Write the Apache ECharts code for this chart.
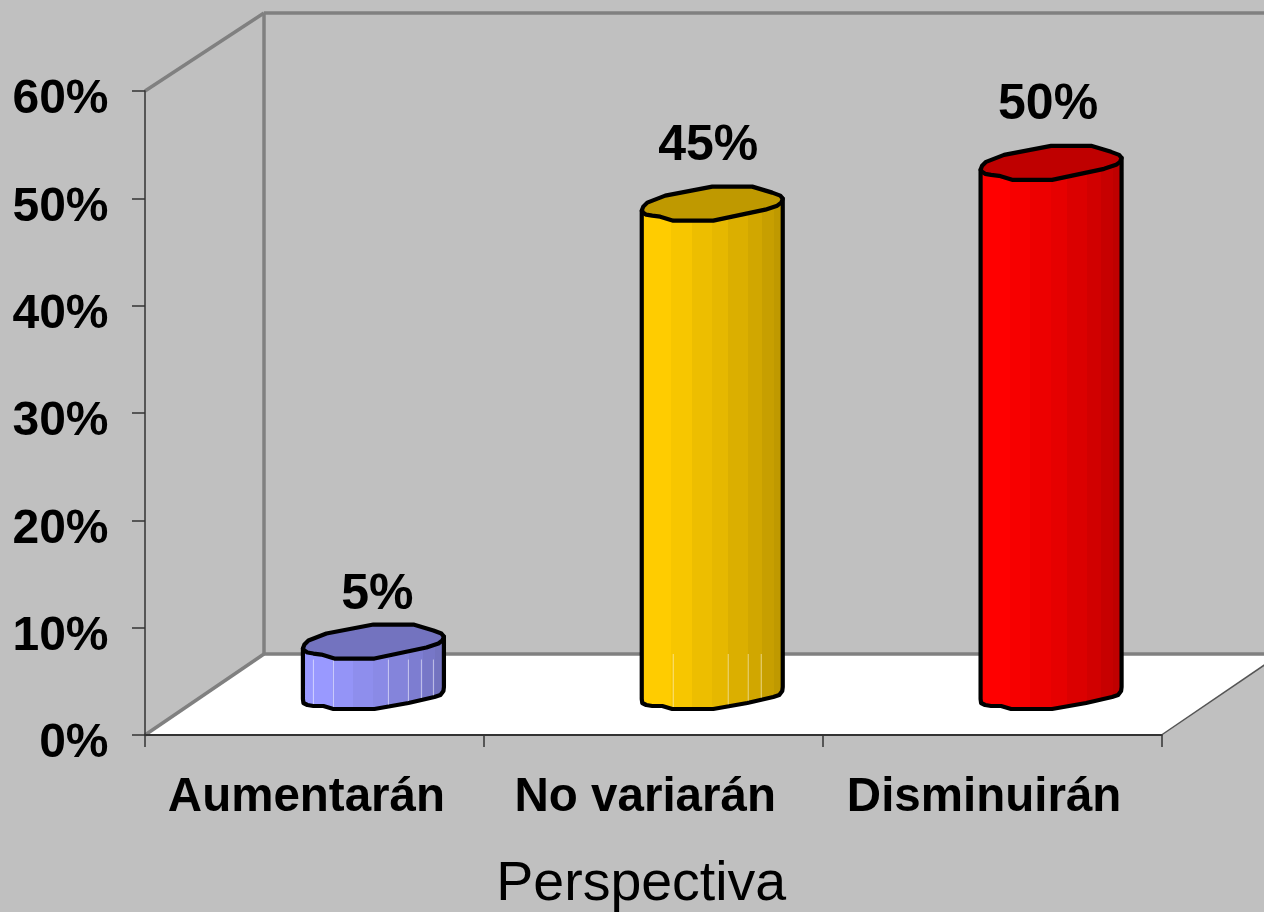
<!DOCTYPE html>
<html>
<head>
<meta charset="utf-8">
<style>html,body{margin:0;padding:0;background:#c0c0c0;overflow:hidden}#chart{width:1264px;height:912px}</style>
<script src="https://cdn.jsdelivr.net/npm/echarts@6/dist/echarts.min.js"></script>
</head>
<body>
<div id="chart"></div>
<script>
const categories = ['Aumentarán', 'No variarán', 'Disminuirán'];
const barValues = [4.7, 45.5, 49.3];
const barLabels = ['5%', '45%', '50%'];
const axisTitle = 'Perspectiva';
const yTicks = [0, 10, 20, 30, 40, 50, 60];

// Drawing style
const FONT = '"Liberation Sans", Arial, sans-serif';
const DEPTH_X = 119, DEPTH_Y = 81, WALL_TOP = 78;
const OFFSET_X = 59, OFFSET_Y = 26;
const faceColors = [[153,153,255],[255,204,0],[255,0,0]];
const seamAlpha = [0.55, 0.5, 0];
const seamSets = [[-60,-40,15,35,48,60],[-39,16,36,49],[]];
const labelLift = [[4,63],[-4,74],[-3,75]];
const topOutline = [[-70.5,-10],[-69,-14],[-65,-18],[-47,-25],[0,-34],[40,-34],[60,-28],[68,-25],[70.5,-22],[69,-18],[65,-15],[53,-11],[1,0],[-39,0],[-52,-4],[-60,-5],[-66,-6],[-69,-8]];
const bottomOutline = [[-70.5,-10],[-70,-6],[-66,-4],[-60,-3],[-50,-3],[-40,0],[1,0],[35,-6],[61,-12],[67,-14],[70,-18],[70.5,-22]];
const stripEdges = [-70.5,-40,-20,0,15,35,48,60,70.5];
const stripShade = [1,0.97,0.93,0.90,0.86,0.82,0.78,0.75];

function shade(c, k){ return 'rgb(' + c.map(v => Math.round(v*k)).join(',') + ')'; }

function outlineYAt(dx){
  for (let n = 0; n < bottomOutline.length-1; n++){
    const a = bottomOutline[n], b = bottomOutline[n+1];
    if (dx >= a[0] && dx <= b[0]) return a[1] + (b[1]-a[1])*(dx-a[0])/(b[0]-a[0]);
  }
  return 0;
}

function renderWalls(params){
  const s = params.coordSys;
  const x0 = s.x, x1 = s.x + s.width, yT = s.y, yB = s.y + s.height;
  const bx = x0 + DEPTH_X, by = yB - DEPTH_Y, tw = yT - WALL_TOP;
  const line = {stroke:'#808080', lineWidth:3.5, fill:null};
  return {type:'group', children:[
    {type:'polygon', shape:{points:[[x0,yB],[bx,by],[x1+DEPTH_X,by],[x1,yB]]}, style:{fill:'#ffffff'}},
    {type:'polyline', shape:{points:[[bx,tw],[x1+DEPTH_X,tw]]}, style:line},
    {type:'polyline', shape:{points:[[bx,tw],[bx,by],[x1+DEPTH_X,by]]}, style:line},
    {type:'polyline', shape:{points:[[x0,yT],[bx,tw]]}, style:line},
    {type:'polyline', shape:{points:[[x0,yB],[bx,by]]}, style:line},
    {type:'polyline', shape:{points:[[x1,yB],[x1+DEPTH_X,by]]}, style:{stroke:'#555555', lineWidth:1.5, fill:null}}
  ]};
}

function renderBar(params, api){
  const i = params.dataIndex;
  const base = api.coord([i, 0]);
  const top = api.coord([i, api.value(1)]);
  const cx = base[0] + OFFSET_X;
  const yBot = base[1] - OFFSET_Y;
  const yTop = top[1] - OFFSET_Y;
  const c = faceColors[i];
  const span = stripEdges[stripEdges.length-1] - stripEdges[0];
  const stops = [];
  stripShade.forEach((k, n) => {
    stops.push({offset:(stripEdges[n]-stripEdges[0])/span, color:shade(c,k)});
    stops.push({offset:(stripEdges[n+1]-stripEdges[0])/span, color:shade(c,k)});
  });
  const body = [[cx+topOutline[0][0], yTop+topOutline[0][1]]]
    .concat(bottomOutline.map(p => [cx+p[0], yBot+p[1]]))
    .concat([[cx+topOutline[8][0], yTop+topOutline[8][1]]]);
  const floorY = params.coordSys.y + params.coordSys.height - DEPTH_Y;
  const children = [
    {type:'polygon', shape:{points:body}, style:{fill:new echarts.graphic.LinearGradient(0,0,1,0,stops), stroke:'#000', lineWidth:4.2, lineJoin:'round'}}
  ];
  seamSets[i].forEach(dx => {
    children.push({type:'line', shape:{x1:cx+dx, y1:Math.max(floorY, yTop+1), x2:cx+dx, y2:yBot+outlineYAt(dx)-2},
      style:{stroke:'rgba(255,255,255,'+seamAlpha[i]+')', lineWidth:1}});
  });
  children.push({type:'polygon', shape:{points:topOutline.map(p => [cx+p[0], yTop+p[1]])},
    style:{fill:shade(c,0.75), stroke:'#000', lineWidth:4.2, lineJoin:'round'}});
  children.push({type:'text', style:{text:barLabels[i], x:cx+labelLift[i][0], y:yTop-labelLift[i][1],
    align:'center', verticalAlign:'middle', font:'bold 50px '+FONT, fill:'#000'}});
  return {type:'group', children};
}

const chart = echarts.init(document.getElementById('chart'), null, {renderer:'canvas'});
chart.setOption({
  animation:false,
  backgroundColor:'#c0c0c0',
  grid:{left:145, right:102.5, top:91, bottom:177, outerBoundsMode:'none'},
  xAxis:{
    type:'category', data:categories, z:5,
    name:axisTitle, nameLocation:'middle', nameGap:122,
    nameTextStyle:{fontFamily:FONT, fontSize:55.5, color:'#000', padding:[0,24,0,0]},
    axisLine:{lineStyle:{color:'#333333', width:2}},
    axisTick:{show:true, alignWithLabel:false, length:12, lineStyle:{color:'#333333', width:1.5}},
    axisLabel:{interval:0, fontFamily:FONT, fontWeight:'bold', fontSize:47.5, color:'#000', margin:39, padding:[0,16,0,0]}
  },
  yAxis:{
    type:'value', min:0, max:60, interval:10, z:5,
    axisLine:{show:true, lineStyle:{color:'#333333', width:1.5}},
    axisTick:{show:true, length:13, lineStyle:{color:'#333333', width:1.5}},
    splitLine:{show:false},
    axisLabel:{formatter:v => yTicks.includes(v) ? v + '%' : '', fontFamily:FONT, fontWeight:'bold', fontSize:48, color:'#000', margin:36.5, verticalAlign:'top', lineHeight:18}
  },
  series:[
    {type:'custom', coordinateSystem:'cartesian2d', renderItem:renderWalls, data:[[0,0]], z:1, silent:true, clip:false},
    {type:'custom', coordinateSystem:'cartesian2d', renderItem:renderBar, encode:{x:0,y:1},
     data:barValues.map((v,i)=>[i,v]), z:2, silent:true, clip:false}
  ]
});
</script>
</body>
</html>
